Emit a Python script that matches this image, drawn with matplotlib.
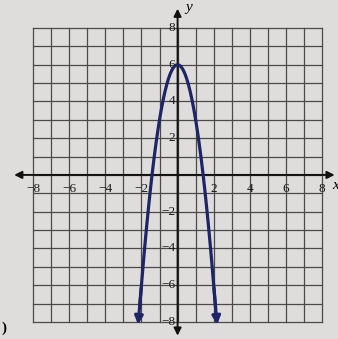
import matplotlib.pyplot as plt

# points (right half, mirrored for the left)
x_half = [0.0, 0.1, 0.2, 0.3, 0.4, 0.5, 0.6, 0.7, 0.8, 0.9, 1.0,
          1.1, 1.2, 1.3, 1.4, 1.5, 1.6, 1.7, 1.8, 1.9, 2.0, 2.1, 2.2]
y_half = [6.0, 5.97, 5.88, 5.73, 5.52, 5.25, 4.92, 4.53, 4.08, 3.57, 3.0,
          2.37, 1.68, 0.93, 0.12, -0.75, -1.68, -2.67, -3.72, -4.83, -6.0, -7.23, -8.3]

x_ticks = [-8, -6, -4, -2, 2, 4, 6, 8]
y_ticks = [8, 6, 4, 2, -2, -4, -6, -8]

xs = [-v for v in x_half[::-1]] + x_half[1:]
ys = y_half[::-1] + y_half[1:]

bg = '#dedddb'
fig = plt.figure(figsize=(3.38, 3.39), dpi=100, facecolor=bg)
ax = fig.add_axes([0, 0, 1, 1])
ax.set_facecolor(bg)
ax.set_xlim(-9.83, 8.88)
ax.set_ylim(-8.93, 9.52)
ax.axis('off')

grid_color = '#4a4a4a'
for g in range(-8, 9):
    ax.plot([g, g], [-8, 8], color=grid_color, lw=0.9, zorder=1)
    ax.plot([-8, 8], [g, g], color=grid_color, lw=0.9, zorder=1)

# axes with arrows at both ends
arrow = dict(arrowstyle='<|-|>', color='#111111', lw=1.4, mutation_scale=11)
ax.annotate('', xy=(-9.2, 0), xytext=(8.85, 0), arrowprops=arrow, zorder=3)
ax.annotate('', xy=(0, 9.2), xytext=(0, -8.9), arrowprops=arrow, zorder=3)

serif = ['Liberation Serif', 'DejaVu Serif']
font = dict(family=serif, fontsize=9.5, color='#1a1a1a')
for t in x_ticks:
    ax.text(t, -0.45, str(t).replace('-', '\u2212'), ha='center', va='top', zorder=4, **font)
for t in y_ticks:
    ax.text(-0.12, t, str(t).replace('-', '\u2212'), ha='right', va='center', zorder=4, **font)
ax.text(0.45, 9.1, 'y', style='italic', ha='left', va='center', zorder=4,
        family=serif, fontsize=11)
ax.text(8.55, -0.6, 'x', style='italic', ha='left', va='center', zorder=4,
        family=serif, fontsize=11)
ax.text(-9.75, -8.35, ')', ha='left', va='center', zorder=4,
        family=serif, fontsize=11, fontweight='bold')

curve_color = '#1f2466'
ax.plot(xs[1:-1], ys[1:-1], color=curve_color, lw=2.3, zorder=5, solid_capstyle='butt')
head = dict(arrowstyle='-|>', color=curve_color, lw=2.3, mutation_scale=12)
ax.annotate('', xy=(xs[0], ys[0]), xytext=(xs[2], ys[2]), arrowprops=head, zorder=5)
ax.annotate('', xy=(xs[-1], ys[-1]), xytext=(xs[-3], ys[-3]), arrowprops=head, zorder=5)

fig.savefig('out.png', dpi=100, facecolor=bg)
